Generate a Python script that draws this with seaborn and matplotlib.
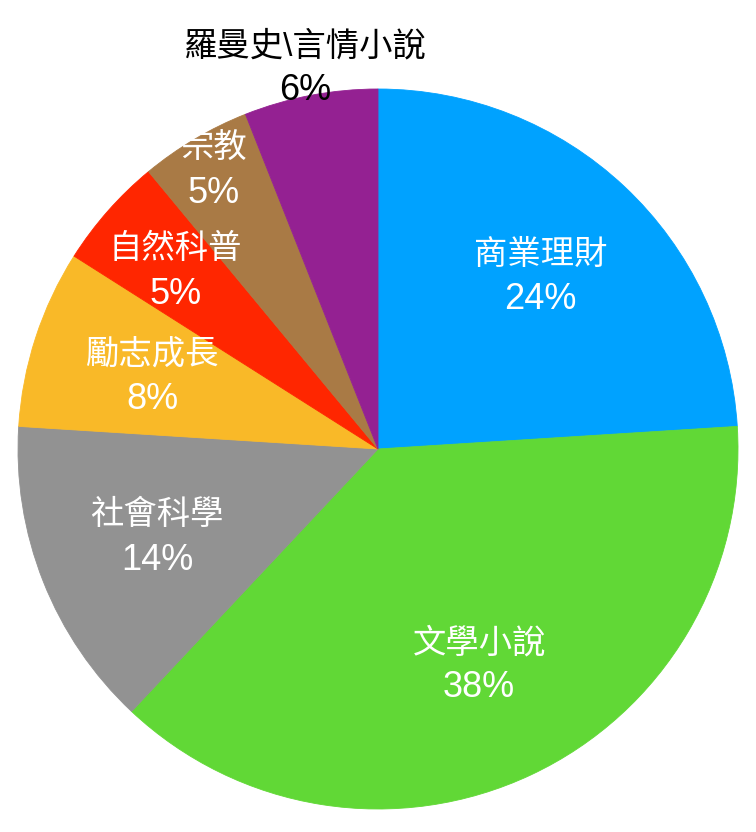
import numpy as np
import matplotlib
matplotlib.use("Agg")
import matplotlib.pyplot as plt
import seaborn as sns

# data
categories = ["商業理財", "文學小說", "社會科學", "勵志成長", "自然科普", "宗教", "羅曼史\\言情小說"]
shares = [24, 38, 14, 8, 5, 5, 6]
colors = ["#00A2FF", "#61D836", "#929292", "#F9B928", "#FF2600", "#A97A45", "#942192"]
label_color = ["white", "white", "white", "white", "white", "white", "black"]
label_dist = [0.66, 0.66, 0.66, 0.66, 0.75, 0.90, 1.08]

sns.set_theme(style="white")
# Latin digits in a Helvetica-like face, CJK from Noto
plt.rcParams['font.family'] = ['Liberation Sans', 'Noto Sans CJK TC', 'DejaVu Sans']

fig = plt.figure(figsize=(7.56, 8.32), dpi=100)
ax = fig.add_axes([0, 0, 1, 1])

palette = sns.color_palette(colors)
wedges, _ = ax.pie(shares, colors=palette, startangle=90, counterclock=False,
                   wedgeprops={"linewidth": 0.6})
for w in wedges:
    w.set_edgecolor(w.get_facecolor())  # hide the seams

# label each wedge along its bisector: name above, percentage below
for w, name, pct, c, d in zip(wedges, categories, shares, label_color, label_dist):
    mid = np.deg2rad((w.theta1 + w.theta2) / 2)
    xy = (d * np.cos(mid), d * np.sin(mid))
    ax.annotate(name, xy, xytext=(0, 15), textcoords="offset points",
                ha="center", va="center", color=c, fontsize=24)
    ax.annotate("{}%".format(pct), xy, xytext=(0, -17), textcoords="offset points",
                ha="center", va="center", color=c, fontsize=26)

ax.set_xlim(-378 / 360, 378 / 360)
ax.set_ylim(-383 / 360, 449 / 360)
ax.set_aspect("equal")
ax.axis("off")

fig.savefig("out.png", dpi=100)
